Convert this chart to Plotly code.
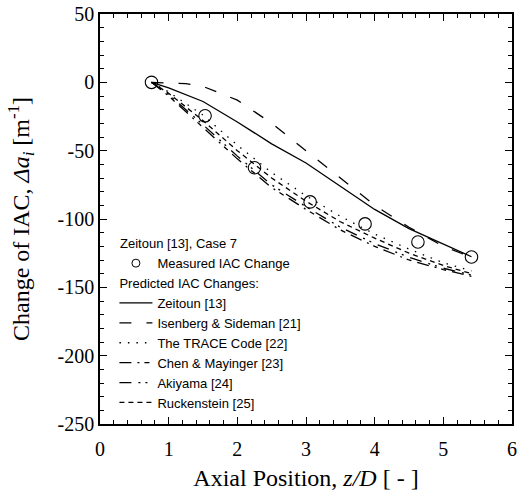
import plotly.graph_objects as go

# Measured data
x_meas = [0.75, 1.53, 2.25, 3.06, 3.86, 4.63, 5.41]
y_meas = [0, -24.5, -62.5, -87.5, -103.6, -116.8, -127.8]

# Predicted curves
x_pred = [0.75, 1.0, 1.5, 2.0, 2.5, 3.0, 3.5, 4.0, 4.5, 5.0, 5.41]
y_zeitoun = [0, -4, -14, -29, -45, -59, -76, -93, -107, -118, -127.6]
x_isen = [0.75, 1.0, 1.25, 1.5, 2.0, 2.5, 3.0, 3.5, 4.0, 4.5, 5.0, 5.41]
y_isen = [0, -0.3, -1, -3, -13, -30, -50, -70, -90, -106, -120, -128]
y_trace = [0, -7, -24, -46, -66, -83, -98, -111, -122, -132, -138]
y_chen = [0, -10, -33, -56, -77, -93, -108, -120, -130, -137, -142]
y_akiyama = [0, -9, -31, -54, -75, -91, -106, -118, -128, -136, -141]
y_ruck = [0, -8, -28, -50, -70, -87, -102, -114, -125, -134, -140]

y_ticks = [50, 0, -50, -100, -150, -200, -250]
y_ticktext = ["50", "0", "-50", "-100", "-150", "-200", "-250"]
x_ticks = [0, 1, 2, 3, 4, 5, 6]

fig = go.Figure()
# data markers (legend entry drawn by a small proxy below)
fig.add_trace(go.Scatter(x=x_meas, y=y_meas, mode="markers", name="Measured IAC Change",
                         showlegend=False,
                         marker=dict(symbol="circle-open", size=12.5, color="black", line=dict(width=1.1))))
fig.add_trace(go.Scatter(x=[None], y=[None], mode="markers", name="Measured IAC Change",
                         legendgroup="m",
                         marker=dict(symbol="circle-open", size=8, color="black", line=dict(width=1))))
lw = 1.3
series = [
    ("Zeitoun [13]", x_pred, y_zeitoun, "solid"),
    ("Isenberg & Sideman [21]", x_isen, y_isen, "12px,15px"),
    ("The TRACE Code [22]", x_pred, y_trace, "1.5px,7px"),
    ("Chen & Mayinger [23]", x_pred, y_chen, "12px,6px,2px,5px,5px,6px"),
    ("Akiyama [24]", x_pred, y_akiyama, "12px,7px,2px,5px,2px,7px"),
    ("Ruckenstein [25]", x_pred, y_ruck, "5px,4px"),
]
for i, (name, xs, ys, dash) in enumerate(series):
    kw = {}
    if i == 0:
        kw["legendgrouptitle"] = dict(text="Predicted IAC Changes:")
    fig.add_trace(go.Scatter(x=xs, y=ys, mode="lines", name=name, legendgroup="p",
                             line=dict(color="black", width=lw, dash=dash), **kw))

axis_common = dict(showline=True, linecolor="black", linewidth=1.5, mirror="allticks",
                   ticks="inside", ticklen=7, tickwidth=1.2, tickcolor="black",
                   showgrid=False, zeroline=False, automargin=False,
                   tickfont=dict(family="Liberation Serif", size=20, color="black"))
fig.update_xaxes(range=[0, 6], tickvals=x_ticks, ticklabelstandoff=6,
                 minor=dict(ticks="inside", ticklen=4, dtick=0.2, tickcolor="black", tickwidth=1),
                 title=dict(text="Axial Position, <i>z/D</i> [ - ]",
                            font=dict(family="Liberation Serif", size=24, color="black"), standoff=10),
                 **axis_common)
fig.update_yaxes(range=[-250, 50], tickvals=y_ticks, ticktext=y_ticktext,
                 minor=dict(ticks="inside", ticklen=4, dtick=10, tickcolor="black", tickwidth=1),
                 title=dict(text="Change of IAC, <i>Δa<sub>i</sub></i> [m<sup>-1</sup>]",
                            font=dict(family="Liberation Serif", size=24, color="black"), standoff=21),
                 **axis_common)
fig.update_layout(
    width=520, height=491,
    margin=dict(l=100, r=8, t=14, b=67),
    plot_bgcolor="white", paper_bgcolor="white",
    legend=dict(x=0.035, y=0.47, xanchor="left", yanchor="top", bgcolor="rgba(0,0,0,0)",
                font=dict(family="Liberation Sans", size=13, color="black"),
                title=dict(text=" Zeitoun [13], Case 7",
                           font=dict(family="Liberation Sans", size=13, color="black")),
                tracegroupgap=0, itemwidth=33,
                grouptitlefont=dict(family="Liberation Sans", size=13, color="black")),
)
fig.write_html("out.html")
